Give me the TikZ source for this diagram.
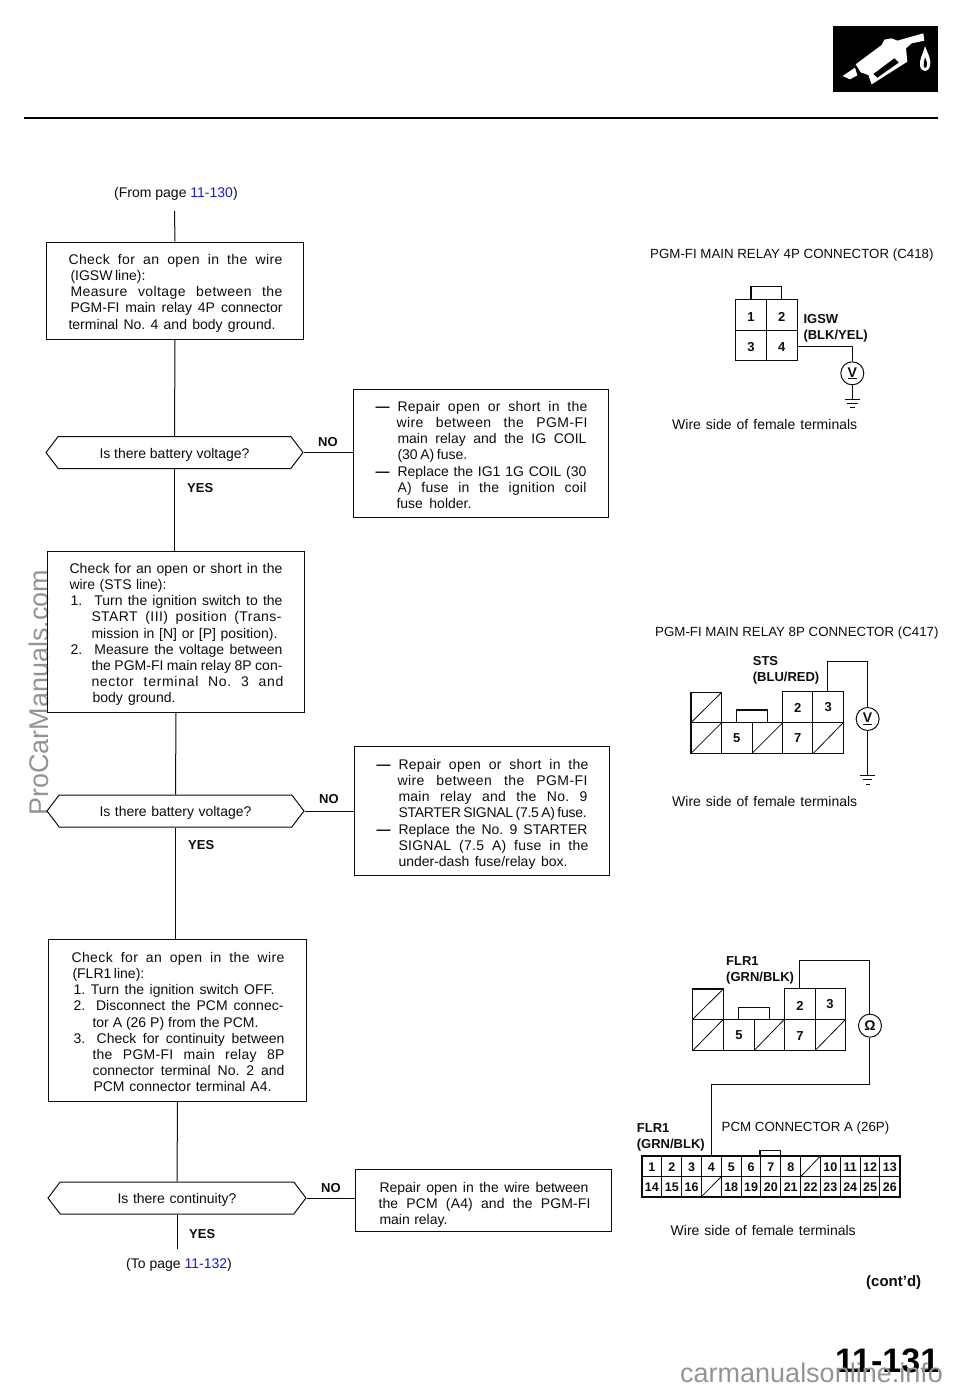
\documentclass[tikz,border=0pt]{standalone}
\usepackage{fontspec}
\setmainfont{Liberation Sans}
\usetikzlibrary{shapes.symbols,calc}
\frenchspacing
\definecolor{ink}{gray}{0.05}
\definecolor{linkblue}{RGB}{25,25,225}
\definecolor{wmgray}{gray}{0.58}
\newcommand{\Blk}[4]{\vbox to #2pt{\offinterlineskip\parindent=0pt\hbox to #1pt{\hfil}\vskip #3pt #4\vss}}
\newcommand{\Ln}[3]{\hbox{\vrule height16.1pt depth0pt width0pt\kern#1pt\smash{\hbox to #2pt{#3}}}}
\newcommand{\Dash}{\llap{\textbf{—}\kern8pt}}
\newcommand{\LS}[1]{\addfontfeature{LetterSpace=#1}}
\newcommand{\Ask}[2]{\raisebox{-5.5pt}[0pt][0pt]{\hbox to #1pt{#2}}}
\tikzset{
  body/.style={font=\fontsize{14}{16}\selectfont,text=ink},
  procbox/.style={draw=ink,line width=1pt,inner sep=0pt,anchor=north west,body},
  askbox/.style={draw=ink,line width=1pt,shape=signal,signal to=east and west,signal pointer angle=105.4,
    minimum height=32pt,inner sep=0pt,body},
  flow/.style={draw=ink,line width=1pt},
  plain/.style={inner sep=0pt,anchor=base west,body},
  tag/.style={inner sep=0pt,anchor=base west,text=ink,font=\fontsize{13}{15}\selectfont\bfseries},
  pin/.style={inner sep=0pt,anchor=center,text=ink,font=\fontsize{13}{14}\selectfont\bfseries},
  pinsmall/.style={pin,anchor=base,font=\fontsize{12.5}{14}\selectfont\bfseries},
  head/.style={inner sep=0pt,anchor=base west,text=ink,font=\fontsize{13.3}{15}\selectfont},
  meter/.style={circle,draw=ink,line width=1pt,minimum size=23pt,inner sep=0pt,text=ink,font=\fontsize{14}{15}\selectfont\bfseries},
  wire/.style={draw=ink,line width=1pt},
  conn/.style={draw=ink,line width=1.5pt,line join=miter},
  cell/.style={draw=ink,line width=.8pt},
  gnd/.style={draw=ink,line width=1pt},
  wm/.style={inner sep=0pt,text=wmgray,font=\fontsize{27}{30}\selectfont},
}
\begin{document}
\begin{tikzpicture}[x=1pt,y=-1pt]
\path[use as bounding box,fill=white] (0,0) rectangle (960,1391);
% watermarks
\node[wm,anchor=base west,rotate=90] (wmleft) at (48,816) {ProCarManuals.com};
% header
\fill[black] (832.5,25.7) rectangle (937.7,91.7);
\begin{scope}[shift={(800,0)},x=.3333pt,y=-.3333pt]
  \fill[white] (128,228) -- (165,203) -- (172,226) -- (150,238) -- cycle;
  \fill[white] (167,193) -- (245,135) -- (253,119) -- (275,115) -- (292,122) -- (370,100) -- (373,122) -- (335,130) -- (318,145) -- (322,185) -- (215,253) -- (205,225) -- (182,217) -- cycle;
  \fill[black] (220,222) -- (283,175) -- (296,188) -- (232,233) -- cycle;
  \fill[white] (375,138) .. controls (385,165) and (395,180) .. (390,198) .. controls (385,218) and (365,218) .. (360,198) .. controls (357,180) and (368,165) .. (375,138) -- cycle;
  \fill[black] (375,172) .. controls (380,185) and (384,192) .. (380,200) .. controls (376,206) and (372,206) .. (371,198) .. controls (370,190) and (373,182) .. (375,172) -- cycle;
\end{scope}
\draw[black,line width=2.6pt] (24,118) -- (938,118);

% flow chart: texts above boxes
\node[plain] (from) at (114,197) {(From page \textcolor{linkblue}{11-130})};
\coordinate (start) at (174.5,211);

\node[procbox] (c1) at (46,241.5) {\Blk{257}{97}{6.5}{%
 \Ln{22}{214}{\LS{3}Check for an open in the wire}%
 \Ln{24}{72}{(IGSW line):}%
 \Ln{24}{212}{\LS{3}Measure voltage between the}%
 \Ln{24}{212}{PGM-FI main relay 4P connector}%
 \Ln{22}{207}{terminal No. 4 and body ground.}}};
\node[askbox,minimum width=257pt] (q1) at (174.5,452.5) {\Ask{150}{Is there battery voltage?}};
\node[procbox] (n1) at (353,389) {\Blk{255}{128}{6}{%
 \Ln{44}{190}{\Dash \LS{2}Repair open or short in the}%
 \Ln{43}{191}{\LS{3}wire between the PGM-FI}%
 \Ln{44}{189}{main relay and the IG COIL}%
 \Ln{44}{60}{(30 A) fuse.}%
 \Ln{44}{189}{\Dash Replace the IG1 1G COIL (30}%
 \Ln{44}{189}{\LS{2}A) fuse in the ignition coil}%
 \Ln{43}{75}{fuse holder.}}};
\node[tag] (no1) at (318,446) {NO};
\node[tag] (yes1) at (187,492) {YES};

\node[procbox] (c2) at (47,551) {\Blk{257}{161}{6}{%
 \Ln{22}{213}{\LS{1}Check for an open or short in the}%
 \Ln{22}{97}{wire (STS line):}%
 \Ln{23}{212}{1.\hspace{7pt} Turn the ignition switch to the}%
 \Ln{44}{190}{\LS{3}START (III) position (Trans-}%
 \Ln{44}{186}{mission in [N] or [P] position).}%
 \Ln{23}{212}{2.\hspace{7pt} Measure the voltage between}%
 \Ln{44}{191}{the PGM-FI main relay 8P con-}%
 \Ln{44}{192}{\LS{5}nector terminal No. 3 and}%
 \Ln{45}{83}{body ground.}}};
\node[askbox,minimum width=257pt] (q2) at (175.5,811) {\Ask{152}{Is there battery voltage?}};
\node[procbox] (n2) at (354,746) {\Blk{255}{129}{7}{%
 \Ln{44}{190}{\Dash \LS{2}Repair open or short in the}%
 \Ln{43}{190}{\LS{3}wire between the PGM-FI}%
 \Ln{44}{189}{\LS{2}main relay and the No. 9}%
 \Ln{44}{188}{\LS{-2}STARTER SIGNAL (7.5 A) fuse.}%
 \Ln{44}{189}{\Dash Replace the No. 9 STARTER}%
 \Ln{44}{190}{\LS{2}SIGNAL (7.5 A) fuse in the}%
 \Ln{44}{169}{under-dash fuse/relay box.}}};
\node[tag] (no2) at (319,803) {NO};
\node[tag] (yes2) at (188,849) {YES};

\node[procbox] (c3) at (48,939) {\Blk{258}{162}{7}{%
 \Ln{23}{213}{\LS{3}Check for an open in the wire}%
 \Ln{24}{69}{(FLR1 line):}%
 \Ln{25}{201}{1. Turn the ignition switch OFF.}%
 \Ln{25}{210}{2.\hspace{5pt} Disconnect the PCM connec-}%
 \Ln{44}{166}{tor A (26 P) from the PCM.}%
 \Ln{25}{211}{3.\hspace{5pt} Check for continuity between}%
 \Ln{44}{192}{\LS{2}the PGM-FI main relay 8P}%
 \Ln{44}{192}{connector terminal No. 2 and}%
 \Ln{45}{178}{PCM connector terminal A4.}}};
\node[askbox,minimum width=258pt] (q3) at (177,1198) {\Ask{119}{Is there continuity?}};
\node[procbox] (n3) at (355,1169) {\Blk{256}{62}{7}{%
 \Ln{24}{209}{Repair open in the wire between}%
 \Ln{23}{212}{\LS{1}the PCM (A4) and the PGM-FI}%
 \Ln{24}{68}{main relay.}}};
\node[tag] (no3) at (321,1192) {NO};
\node[tag] (yes3) at (189,1238) {YES};
\coordinate (finish) at (177,1249);
\node[plain] (to) at (126,1268) {(To page \textcolor{linkblue}{11-132})};

\path[flow] (start) -- (c1.north);
\path[flow] (c1.south) -- (q1.north);
\path[flow] (q1.south) -- (q1.south |- c2.north);
\path[flow] (c2.south) -- (q2.north);
\path[flow] (q2.south) -- (q2.south |- c3.north);
\path[flow] (c3.south) -- (q3.north);
\path[flow] (q3.south) -- (finish);
\path[flow] (q1.east) -- (q1.east -| n1.west);
\path[flow] (q2.east) -- (q2.east -| n2.west);
\path[flow] (q3.east) -- (q3.east -| n3.west);

% 4P connector
\node[head] (h4p) at (650,258) {PGM-FI MAIN RELAY 4P CONNECTOR (C418)};
\begin{scope}[shift={(640,240)},x=.3333pt,y=-.3333pt]
  \draw[conn] (287,178) rectangle (472,362);
  \draw[conn] (333,178) -- (333,140) -- (425,140) -- (425,178);
  \draw[cell] (380,178) -- (380,362) (287,270) -- (472,270);
  \node[pin] (p41) at (333,232) {1};
  \node[pin] (p42) at (425,230) {2};
  \node[pin] (p43) at (333,320) {3};
  \node[pin] (p44) at (425,320) {4};
  \node[tag] (igsw) at (490,250) {IGSW};
  \node[tag] (igswc) at (490,298) {(BLK/YEL)};
  \coordinate (w4a) at (472,320);
  \node[meter] (mv1) at (637,400) {\underline{V}};
  \coordinate (g1) at (637,480);
  \draw[wire] (w4a) -| (mv1.north);
  \draw[wire] (mv1.south) -- (g1);
  \draw[gnd] (615,480) -- (660,480) (622,491) -- (653,491) (630,503) -- (645,503);
\end{scope}
\node[plain] (ws1) at (672,429) {\hbox to 185pt{Wire side of female terminals}};

% 8P connector STS
\node[head] (h8p) at (655,636) {PGM-FI MAIN RELAY 8P CONNECTOR (C417)};
\begin{scope}[shift={(640,620)},x=.3333pt,y=-.3333pt]
  \draw[conn] (153,217) -- (245,217) -- (245,308) -- (290,308) -- (290,270) -- (382,270) -- (382,308) -- (428,308) -- (428,215) -- (610,215) -- (610,400) -- (153,400) -- cycle;
  \draw[cell] (153,308) -- (610,308) (245,308) -- (245,400) (336,308) -- (336,400) (428,308) -- (428,400) (518,215) -- (518,400);
  \draw[cell] (153,308) -- (245,217) (153,400) -- (245,308) (336,400) -- (428,308) (520,400) -- (610,308);
  \node[pin] (s2) at (473,263) {2};
  \node[pin] (s3) at (565,262) {3};
  \node[pin] (s5) at (290,355) {5};
  \node[pin] (s7) at (473,355) {7};
  \node[tag] (sts) at (338,137) {STS};
  \node[tag] (stsc) at (338,185) {(BLU/RED)};
  \coordinate (w8a) at (562,215);
  \coordinate (w8b) at (562,125);
  \node[meter] (mv2) at (683,297) {\underline{V}};
  \coordinate (g2) at (683,467);
  \draw[wire] (w8a) -- (w8b) -| (mv2.north);
  \draw[wire] (mv2.south) -- (g2);
  \draw[gnd] (660,467) -- (705,467) (668,480) -- (697,480) (678,493) -- (690,493);
\end{scope}
\node[plain] (ws2) at (672,806) {\hbox to 185pt{Wire side of female terminals}};

% 8P connector FLR1 and PCM 26P
\begin{scope}[shift={(630,940)},x=.3333pt,y=-.3333pt]
  \draw[conn] (188,147) -- (280,147) -- (280,238) -- (325,238) -- (325,202) -- (418,202) -- (418,238) -- (463,238) -- (463,145) -- (647,145) -- (647,332) -- (188,332) -- cycle;
  \draw[cell] (188,238) -- (647,238) (280,238) -- (280,332) (372,238) -- (372,332) (463,238) -- (463,332) (555,145) -- (555,332);
  \draw[cell] (188,238) -- (280,147) (190,330) -- (280,238) (372,332) -- (463,238) (555,332) -- (647,238);
  \node[pin] (f2) at (510,197) {2};
  \node[pin] (f3) at (600,193) {3};
  \node[pin] (f5) at (327,286) {5};
  \node[pin] (f7) at (510,287) {7};
  \node[tag] (flr) at (288,77) {FLR1};
  \node[tag] (flrc) at (288,125) {(GRN/BLK)};
  \node[tag] (flrb) at (20,577) {FLR1};
  \node[tag] (flrbc) at (20,627) {(GRN/BLK)};
  \coordinate (w3a) at (510,145);
  \coordinate (w3b) at (510,60);
  \node[meter] (mo) at (720,257) {Ω};
  \coordinate (w3c) at (720,433);
  \coordinate (w3d) at (244,648);
  \draw[wire] (w3a) -- (w3b) -| (mo.north);
  \draw[wire] (mo.south) -- (w3c) -| (w3d);
  % 26P body
  \draw[conn,line width=2pt] (36,648) rectangle (810,770);
  \draw[conn] (390,648) -- (390,631) -- (452,631) -- (452,648);
  \draw[cell] (36,710) -- (810,710);
  \foreach \k in {1,...,12}{\draw[cell,line width=1pt] ({36+59.5*\k},648) -- ({36+59.5*\k},770);}
  \foreach \k/\t in {0/1,1/2,2/3,3/4,4/5,5/6,6/7,7/8,9/10,10/11,11/12,12/13}{
    \node[pinsmall] (pa\t) at ({36+59.5*(\k+.5)},696) {\t};}
  \foreach \k/\t in {0/14,1/15,2/16,4/18,5/19,6/20,7/21,8/22,9/23,10/24,11/25,12/26}{
    \node[pinsmall] (pb\t) at ({36+59.5*(\k+.5)},754) {\t};}
  \draw[cell] ({36+59.5*8},710) -- ({36+59.5*9},648);
  \draw[cell] ({36+59.5*3},770) -- ({36+59.5*4},710);
\end{scope}
\node[plain] (pcm) at (721.5,1131.5) {\fontsize{13.3}{15}\selectfont PCM CONNECTOR A (26P)};
\node[plain] (ws3) at (670.5,1235) {\hbox to 185pt{Wire side of female terminals}};

% page furniture
\node[inner sep=0pt,anchor=base west,text=ink,font=\fontsize{15}{17}\selectfont\bfseries] (cont) at (866,1286) {(cont’d)};
\node[inner sep=0pt,anchor=base west,text=black,font=\fontsize{34}{36}\selectfont\bfseries] (pageno) at (835,1372) {11-131};
\node[wm,anchor=base west] (wmbottom) at (680,1382) {carmanualsonline.info};
\end{tikzpicture}
\end{document}
